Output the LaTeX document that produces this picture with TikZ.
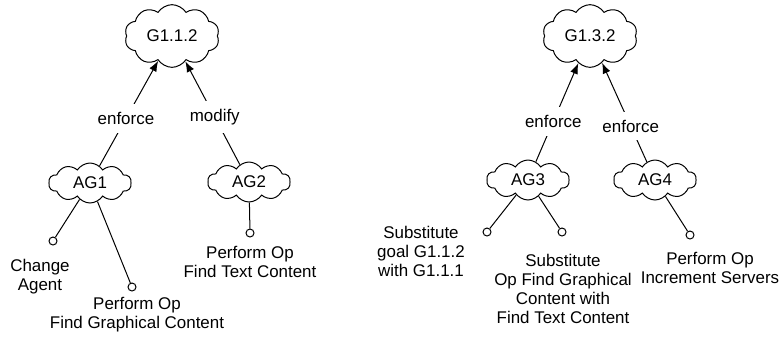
\documentclass[tikz,border=0pt]{standalone}
\usepackage{fontspec}
\setmainfont{Liberation Sans}
\usetikzlibrary{shapes,arrows.meta,positioning}

\begin{document}
\begin{tikzpicture}[x=0.75pt, y=-0.75pt, line width=0.75pt,
  font=\fontsize{12.7}{14.25}\selectfont,
  goalcloud/.style={cloud, draw, cloud puffs=10, cloud puff arc=115, aspect=1.5, minimum width=71pt, minimum height=47pt, inner sep=0pt},
  agcloud/.style={goalcloud, aspect=2, minimum width=62pt, minimum height=30pt},
  term/.style={circle, draw, minimum size=6pt, inner sep=0pt},
  opdesc/.style={align=center},
  edgelbl/.style={fill=white, inner xsep=1pt, inner ysep=6pt},
  goalarrow/.style={-{Latex[length=8pt, width=6pt]}}]
  \useasboundingbox (0,0) rectangle (780,337);
  % left tree
  \node[goalcloud] (g112) at (172,36) {G1.1.2};
  \node[agcloud] (ag1) at (90,183) {AG1};
  \node[agcloud] (ag2) at (249,182) {AG2};
  \draw[goalarrow] (ag1) -- node[edgelbl, pos=0.45] {enforce} (g112);
  \draw[goalarrow] (ag2) -- node[edgelbl, pos=0.46] {modify} (g112);
  \node[term] (t1) at (53,241) {};
  \node[term] (t2) at (132,287) {};
  \node[term] (t3) at (250,233) {};
  \draw (ag1) -- (t1);
  \draw (ag1) -- (t2);
  \draw (ag2) -- (t3);
  \node[opdesc] (d1) at (40,277) {Change\\Agent};
  \node[opdesc] (d2) at (137,315) {Perform Op\\Find Graphical Content};
  \node[opdesc] (d3) at (250,262) {Perform Op\\Find Text Content};
  % right tree
  \node[goalcloud] (g132) at (590,36) {G1.3.2};
  \node[agcloud] (ag3) at (528,180) {AG3};
  \node[agcloud] (ag4) at (655,180) {AG4};
  \draw[goalarrow] (ag3) -- node[edgelbl, pos=0.41] {enforce} (g132);
  \draw[goalarrow] (ag4) -- node[edgelbl, pos=0.36] {enforce} (g132);
  \node[term] (t4) at (487,232) {};
  \node[term] (t5) at (562,232) {};
  \node[term] (t6) at (690,235) {};
  \draw (ag3) -- (t4);
  \draw (ag3) -- (t5);
  \draw (ag4) -- (t6);
  \node[opdesc] (d4) at (421,251) {Substitute\\goal G1.1.2\\with G1.1.1};
  \node[opdesc] (d5) at (563,289) {Substitute\\Op Find Graphical\\Content with\\Find Text Content};
  \node[opdesc] (d6) at (710,268) {Perform Op\\Increment Servers};
\end{tikzpicture}
\end{document}
